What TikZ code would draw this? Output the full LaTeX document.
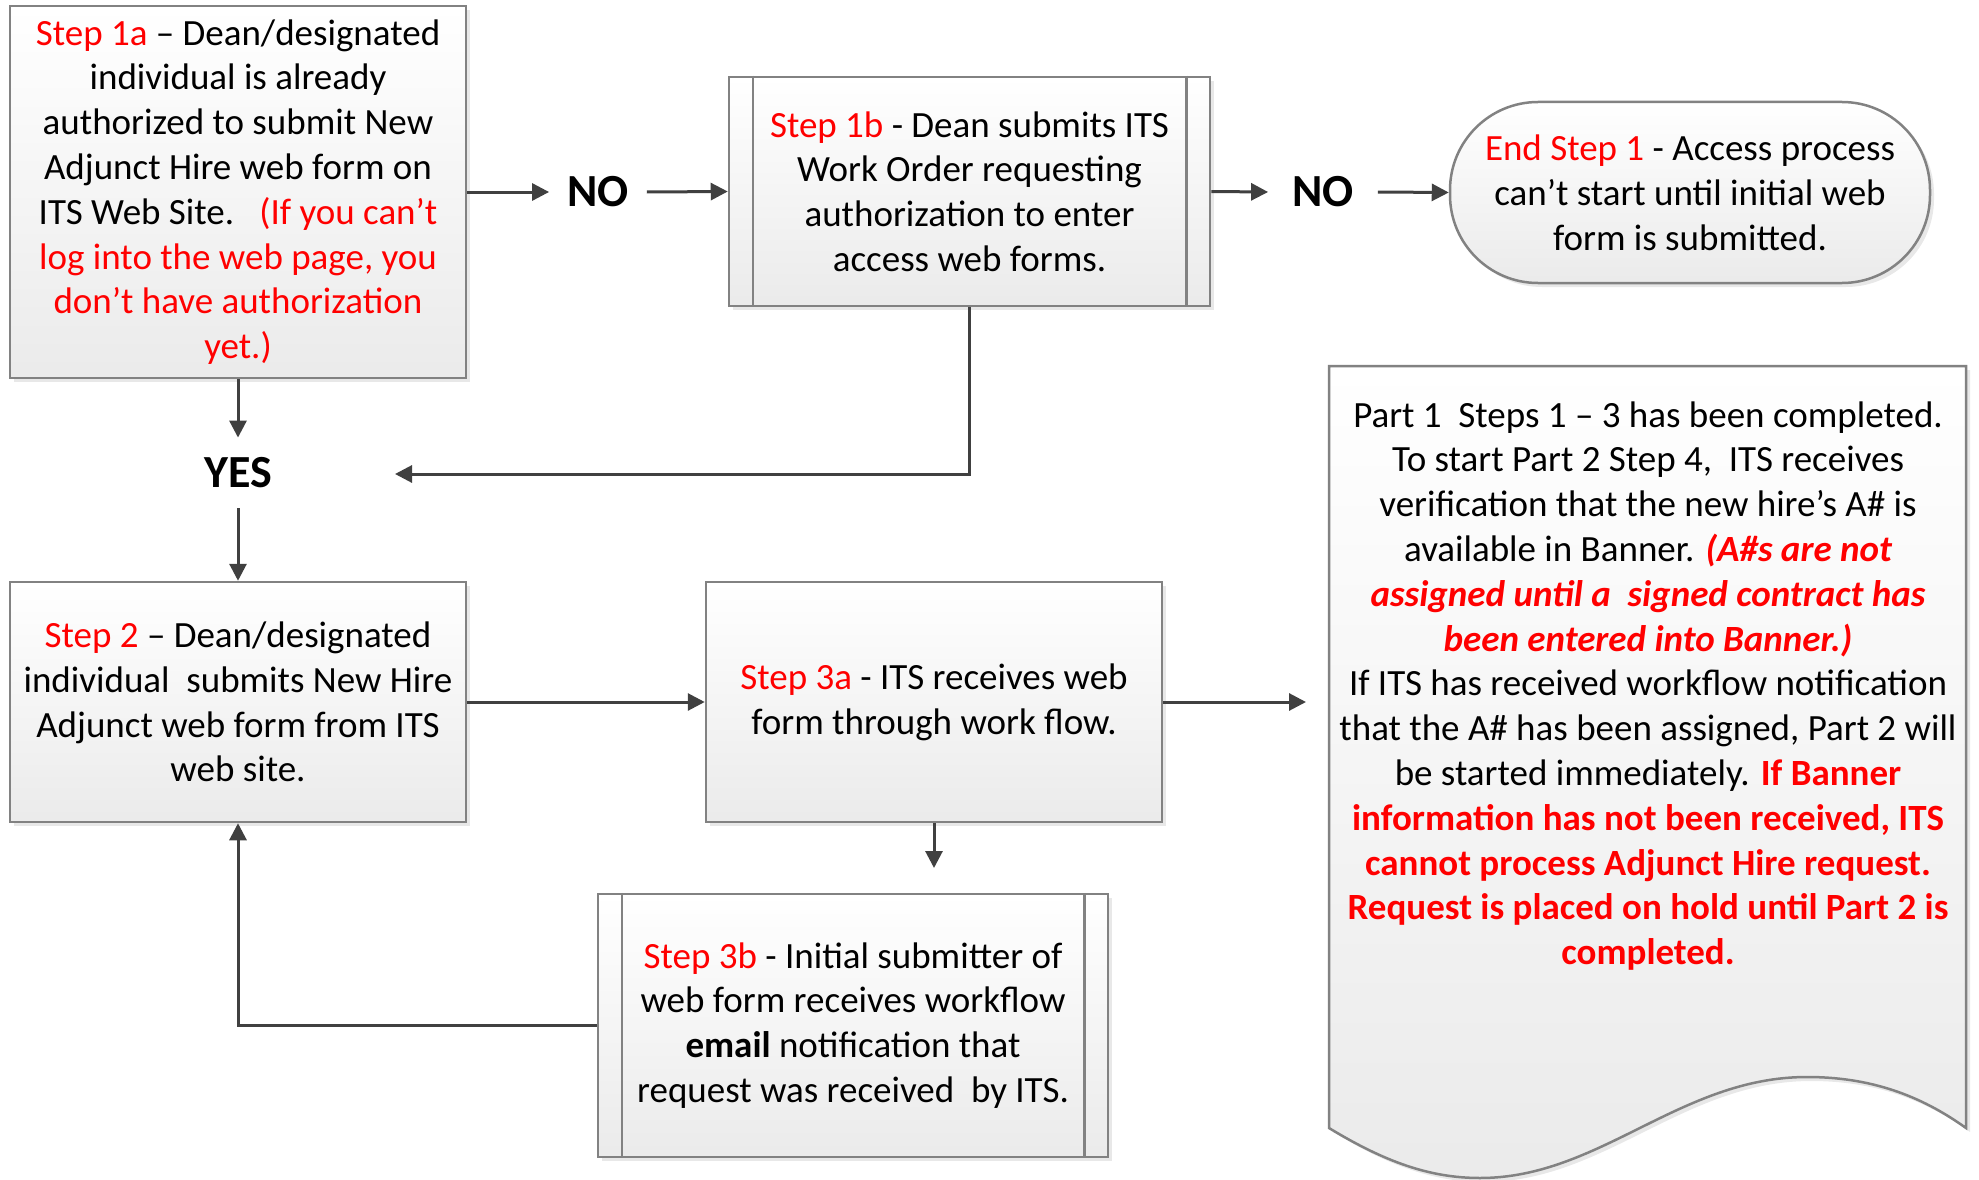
\documentclass[tikz,border=0pt]{standalone}
\usepackage{fontspec}
\setmainfont{Carlito}
\usetikzlibrary{arrows.meta}
\definecolor{stepred}{RGB}{255,0,0}
\definecolor{linegray}{RGB}{64,64,64}
\definecolor{bordergray}{RGB}{130,130,130}
\newcommand{\rs}[1]{\textcolor{stepred}{#1}}
\begin{document}
\begin{tikzpicture}[x=1pt,y=-1pt,font=\fontsize{37}{44.8}\selectfont,
  shadowed/.style={preaction={fill=black!9,transform canvas={xshift=4pt,yshift=-4pt}}},
  box/.style={shadowed,draw=bordergray,line width=2.5pt,top color=white,bottom color=black!8,
    align=center,inner sep=0pt,rectangle},
  sideline/.style={draw=bordergray,line width=2.5pt},
  arr/.style={draw=linegray,line width=3pt,-{Triangle[length=17pt,width=17pt]}},
  lbl/.style={font=\fontsize{46}{54}\selectfont\bfseries,inner xsep=18pt,inner ysep=20pt}]
\useasboundingbox (0,0) rectangle (1979,1180);

% boxes
\node[box,minimum width=456pt,minimum height=372pt] (b1a) at (238,192)
 {\rs{Step 1a} – Dean/designated\\
  individual is already\\
  authorized to submit New\\
  Adjunct Hire web form on\\
  ITS Web Site.\ \ \ \rs{(If you can’t}\\
  \rs{log into the web page, you}\\
  \rs{don’t have authorization}\\
  \rs{yet.)}};

\node[box,minimum width=481pt,minimum height=229pt] (b1b) at (969.5,191.5)
 {\rs{Step 1b} - Dean submits ITS\\
  Work Order requesting\\
  authorization to enter\\
  access web forms.};
\draw[sideline] ([xshift=25pt]b1b.north west) -- ([xshift=25pt]b1b.south west);
\draw[sideline] ([xshift=-25pt]b1b.north east) -- ([xshift=-25pt]b1b.south east);

\node[box,rounded corners=88pt,minimum width=480pt,minimum height=181pt] (end) at (1690,192.5)
 {\rs{End Step 1} - Access process\\
  can’t start until initial web\\
  form is submitted.};

\node[box,minimum width=456pt,minimum height=240pt] (b2) at (238,702)
 {\rs{Step 2} – Dean/designated\\
  individual\ \ submits New Hire\\
  Adjunct web form from ITS\\
  web site.};

\node[box,minimum width=456pt,minimum height=240pt] (b3a) at (934,702)
 {\rs{Step 3a} - ITS receives web\\
  form through work flow.};

\node[box,minimum width=510pt,minimum height=263pt] (b3b) at (853,1025.5)
 {\rs{Step 3b} - Initial submitter of\\
  web form receives workflow\\
  \textbf{email} notification that\\
  request was received\ \ by ITS.};
\draw[sideline] ([xshift=25pt]b3b.north west) -- ([xshift=25pt]b3b.south west);
\draw[sideline] ([xshift=-25pt]b3b.north east) -- ([xshift=-25pt]b3b.south east);

% document shape
\path[shadowed,draw=bordergray,line width=2.5pt,top color=white,bottom color=black!8]
  (1329,366) -- (1966,366) -- (1966,1128)
  .. controls (1920,1095) and (1870,1077) .. (1807,1077)
  .. controls (1680,1077) and (1600,1178) .. (1480,1178)
  .. controls (1430,1178) and (1385,1162) .. (1329,1128) -- cycle;
\node[align=center,inner sep=0pt] (doc) at (1648,686)
 {Part 1\ \ Steps 1 – 3 has been completed.\\
  To start Part 2 Step 4,\ \ ITS receives\\
  verification that the new hire’s A\# is\\
  available in Banner. \textcolor{stepred}{\bfseries\itshape (A\#s are not}\\
  \textcolor{stepred}{\bfseries\itshape assigned until a\ \ signed contract has}\\
  \textcolor{stepred}{\bfseries\itshape been entered into Banner.)}\\
  If ITS has received workflow notification\\
  that the A\# has been assigned, Part 2 will\\
  be started immediately. \textcolor{stepred}{\bfseries If Banner}\\
  \textcolor{stepred}{\bfseries information has not been received, ITS}\\
  \textcolor{stepred}{\bfseries cannot process Adjunct Hire request.}\\
  \textcolor{stepred}{\bfseries Request is placed on hold until Part 2 is}\\
  \textcolor{stepred}{\bfseries completed.}};

% labels
\node[lbl] (no1) at (598,192) {NO};
\node[lbl,inner xsep=24pt] (no2) at (1323,192) {NO};
\node[lbl] (yes) at (238,473) {YES};

% free ends
\coordinate (yesin) at (395,474);
\coordinate (docin) at (1306,702);
\coordinate (b3bin) at (934,868);

% connectors
\draw[arr] (b1a.east) -- (no1.west);
\draw[arr] (no1.east) -- (b1b.west);
\draw[arr] (b1b.east) -- (no2.west);
\draw[arr] (no2.east) -- (end.west);
\draw[arr] (b1a.south) -- (yes.north);
\draw[arr] (yes.south) -- (b2.north);
\draw[arr] (b1b.south) |- (yesin);
\draw[arr] (b2.east) -- (b3a.west);
\draw[arr] (b3a.east) -- (docin);
\draw[arr] (b3a.south) -- (b3bin);
\draw[arr] (b3b.west) -| (b2.south);
\end{tikzpicture}
\end{document}
